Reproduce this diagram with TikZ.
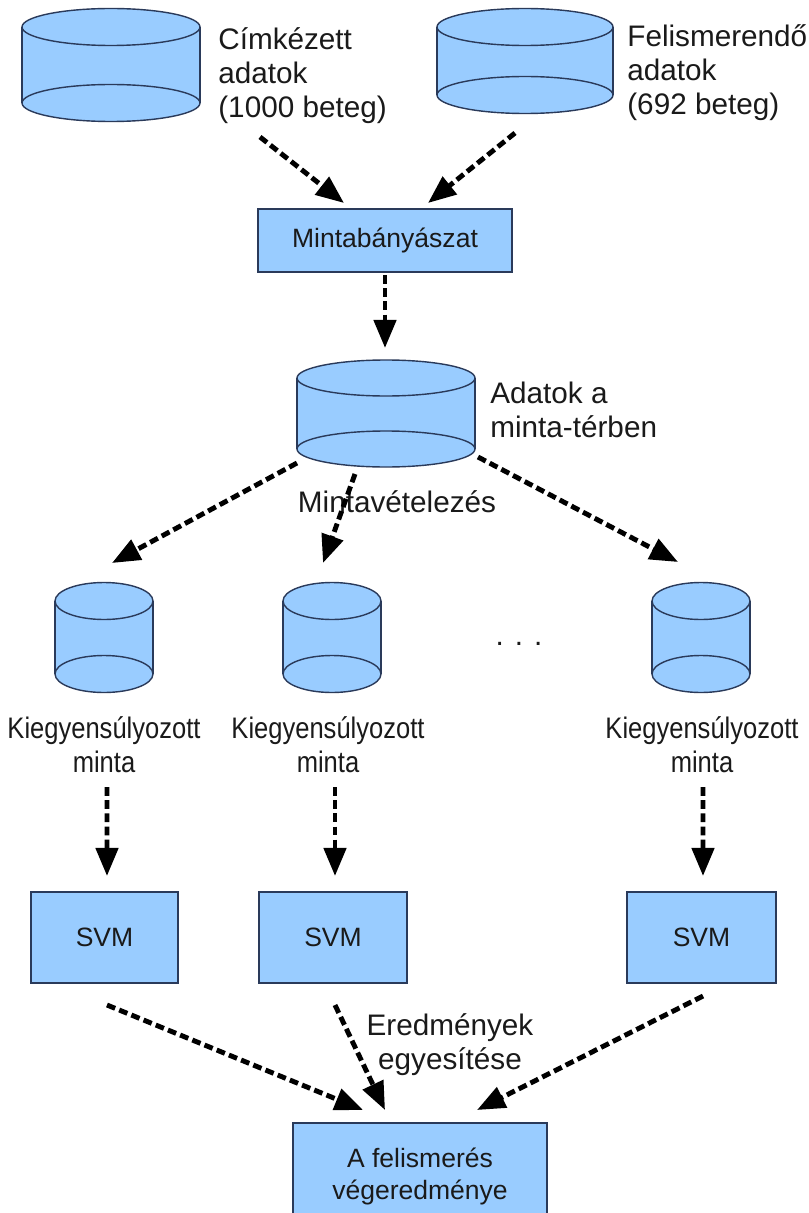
\documentclass[tikz,border=0pt]{standalone}
\usepackage{fontspec}
\setmainfont{Liberation Sans}
\usepackage{graphicx}
\usetikzlibrary{arrows.meta,calc,fit}

\definecolor{dbfillc}{HTML}{99CCFF}
\definecolor{dbedge}{HTML}{2A3A5A}
\definecolor{ink}{HTML}{1A1A1A}

% multi-line text whose baseline is the first line
\newcommand\stackL[1]{\vtop{\halign{##\hfil\cr#1\cr}}}
\newcommand\stackC[1]{\vtop{\halign{\hfil##\hfil\cr#1\cr}}}
\newcommand\lblfont{\fontsize{16.9pt}{19.35pt}\selectfont}
\newcommand\boxfont{\fontsize{15.1pt}{18.2pt}\selectfont}

\tikzset{
  dbbody/.style={fill=dbfillc},
  dbshape/.style={fill=dbfillc, draw=dbedge, line width=0.8pt},
  procbox/.style={draw=dbedge, fill=dbfillc, line width=0.8pt, inner sep=0,
                  font=\boxfont, text=ink},
  boxtext/.style={inner sep=0, font=\boxfont, text=ink},
  biglbl/.style={inner sep=0, font=\lblfont, text=ink},
  flow/.style={draw=black, line width=2.8pt, dash pattern=on 5pt off 2.5pt,
               -{Triangle[length=16pt,width=12.5pt]}},
}

% database cylinder: name, centre x, top ellipse y, bottom ellipse y, x radius, y radius
\newcommand\dbcyl[6]{%
  \fill[dbbody] (#2-#5,#3) rectangle (#2+#5,#4);
  \filldraw[dbshape] (#2,#4) ellipse [x radius=#5, y radius=#6];
  \draw[dbedge, line width=0.8pt] (#2-#5,#3) -- (#2-#5,#4) (#2+#5,#3) -- (#2+#5,#4);
  \filldraw[dbshape] (#2,#3) ellipse [x radius=#5, y radius=#6];
  \node[fit={(#2-#5,#3-#6) (#2+#5,#4+#6)}, inner sep=0] (#1) {};
}

\begin{document}
\begin{tikzpicture}[x=0.02cm, y=-0.02cm]
  \useasboundingbox (0,0) rectangle (808,1213);
  \fill[white] (0,0) rectangle (808,1213);
  \clip (0,0) rectangle (808,1213);

  % data stores
  \dbcyl{c1}{111}{27}{103}{89}{18.5}
  \dbcyl{c2}{525}{27}{95}{88}{18.5}
  \dbcyl{mid}{386}{378}{449}{89}{18}
  \dbcyl{k1}{104}{601}{674}{49}{18.5}
  \dbcyl{k2}{332}{601}{674}{49}{18.5}
  \dbcyl{k3}{701}{601}{674}{49}{18.5}

  % processing steps
  \node[procbox, minimum width=5.08cm, minimum height=1.26cm] (mine) at (385,240.5) {Mintabányászat};
  \node[procbox, minimum width=2.94cm, minimum height=1.82cm] (svm1) at (104.5,937.5) {SVM};
  \node[procbox, minimum width=2.96cm, minimum height=1.82cm] (svm2) at (333,937.5) {SVM};
  \node[procbox, minimum width=2.98cm, minimum height=1.82cm] (svm3) at (701.5,937.5) {SVM};
  \node[procbox, minimum width=5.08cm, minimum height=2.14cm] (fin) at (420,1176.5) {};
  \node[boxtext, anchor=base] (finlbl) at ($(fin.north)+(0,45)$) {\stackC{A felismerés\cr végeredménye}};

  % labels
  \node[biglbl, anchor=base west] (lblc1) at (218,50) {\stackL{Címkézett\cr adatok\cr (1000 beteg)}};
  \node[biglbl, anchor=base west] (lblc2) at (627,47) {\stackL{Felismerendő\cr adatok\cr (692 beteg)}};
  \node[biglbl, anchor=base west] (lblmid) at (490,403) {\stackL{Adatok a\cr minta-térben}};
  \node[biglbl, anchor=base] (lblsamp) at (397,512) {Mintavételezés};
  \node[biglbl, anchor=base] (lblk1) at (104,738) {\scalebox{0.86}[1]{\stackC{Kiegyensúlyozott\cr minta}}};
  \node[biglbl, anchor=base] (lblk2) at (328,738) {\scalebox{0.86}[1]{\stackC{Kiegyensúlyozott\cr minta}}};
  \node[biglbl, anchor=base] (lblk3) at (702,738) {\scalebox{0.86}[1]{\stackC{Kiegyensúlyozott\cr minta}}};
  \node[biglbl, anchor=base] (dots) at (519,645) {. . .};
  \node[biglbl, anchor=base] (lblres) at (450,1035) {\stackC{Eredmények\cr egyesítése}};

  % flow connectors
  \draw[flow] ($(c1)+(149,72)$) -- ($(mine)+(-41,-37.5)$);
  \draw[flow] ($(c2)+(-10,72)$) -- ($(mine)+(43,-37.5)$);
  \draw[flow] ($(mine)+(0,34.5)$) -- ($(mid)+(-1,-65.5)$);
  \draw[flow] ($(mid)+(-89,49.5)$) -- ($(k1)+(8,-74.5)$);
  \draw[flow] ($(mid)+(-31,60.5)$) -- ($(k2)+(-9,-74.5)$);
  \draw[flow] ($(mid)+(92,43.5)$) -- ($(k3)+(-23,-75.5)$);
  \draw[flow] ($(k1)+(3,149.5)$) -- ($(svm1)+(2.5,-61.5)$);
  \draw[flow] ($(k2)+(3,149.5)$) -- ($(svm2)+(2,-61.5)$);
  \draw[flow] ($(k3)+(2,149.5)$) -- ($(svm3)+(1.5,-61.5)$);
  \draw[flow] ($(svm1)+(2.5,67.5)$) -- ($(fin)+(-57,-66.5)$);
  \draw[flow] ($(svm2)+(2,67.5)$) -- ($(fin)+(-35,-66.5)$);
  \draw[flow] ($(svm3)+(1.5,58.5)$) -- ($(fin)+(57,-66.5)$);
\end{tikzpicture}
\end{document}
